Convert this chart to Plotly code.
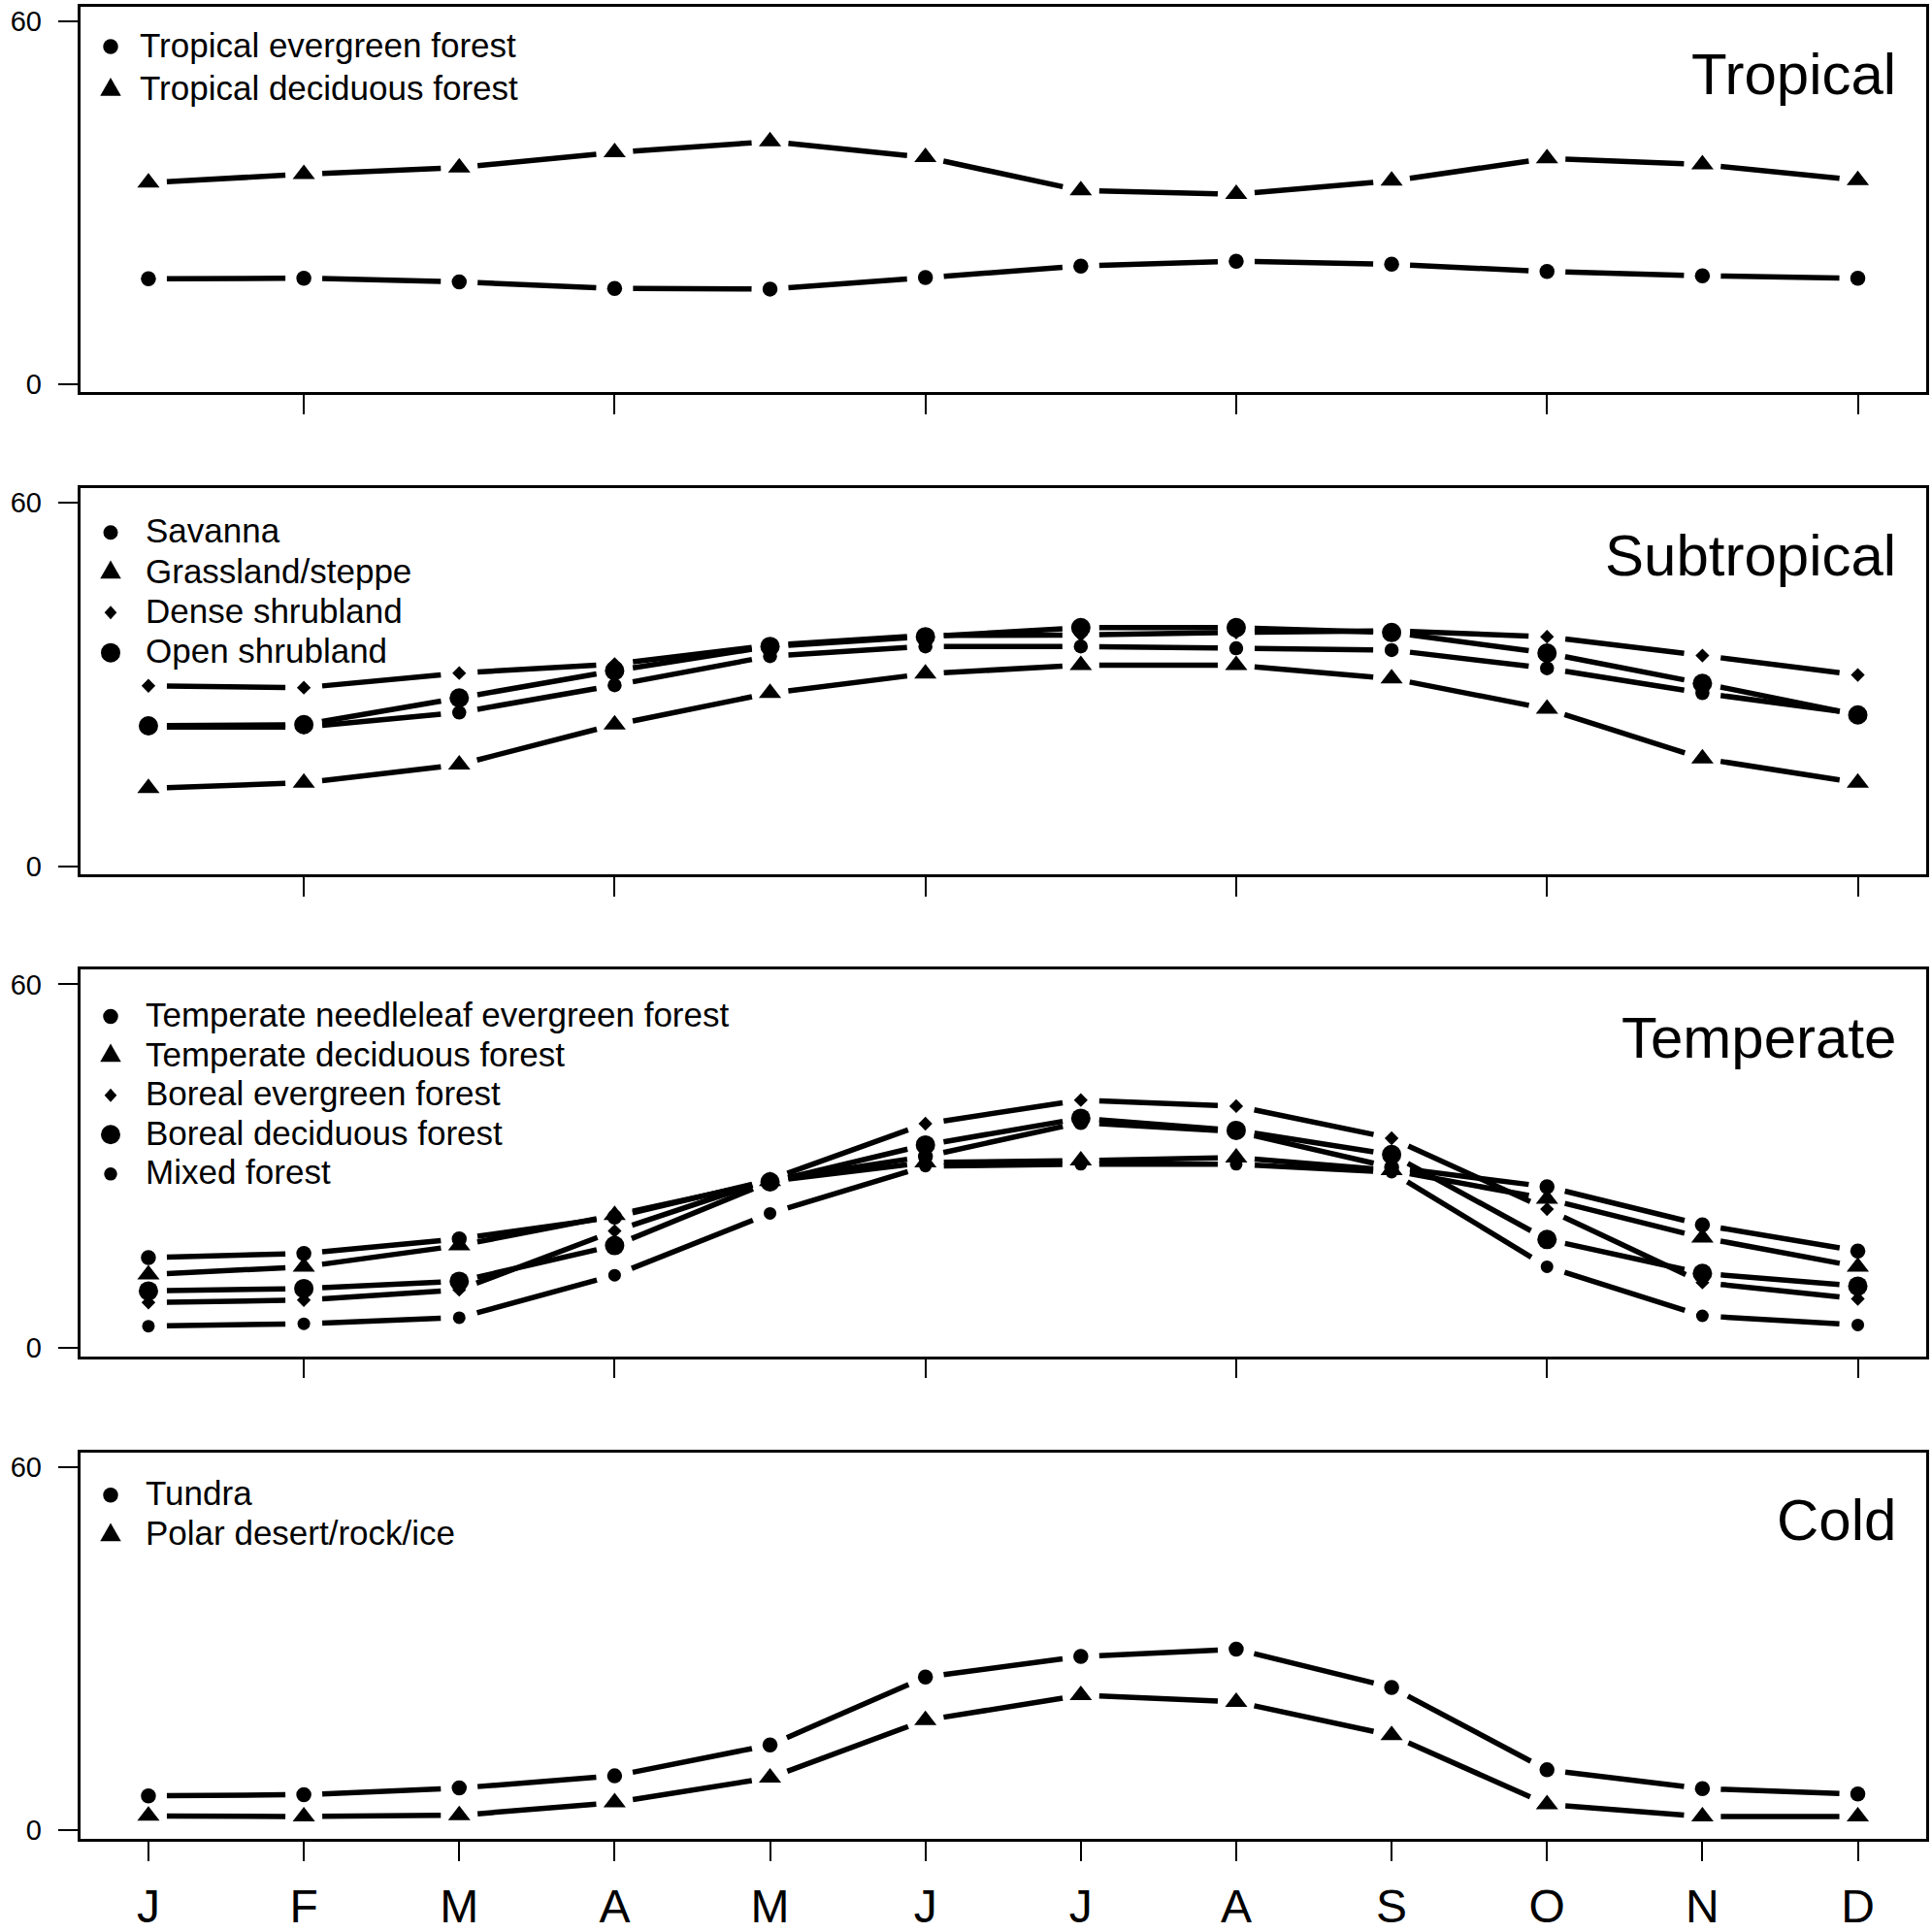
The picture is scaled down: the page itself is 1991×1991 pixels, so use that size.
import math
import plotly.graph_objects as go

# ---------------- data ----------------
months = ["J", "F", "M", "A", "M", "J", "J", "A", "S", "O", "N", "D"]
month_index = list(range(1, 13))
y_tick_values = [0, 60]
y_tick_labels = ["0", "60"]

tropical_evergreen = [17.4, 17.5, 16.9, 15.8, 15.7, 17.6, 19.5, 20.3, 19.8, 18.6, 17.9, 17.5]
tropical_deciduous = [33.3, 34.7, 35.8, 38.3, 40.1, 37.5, 32.0, 31.4, 33.6, 37.3, 36.3, 33.7]

savanna = [23.0, 23.0, 25.4, 29.9, 34.7, 36.3, 36.3, 36.0, 35.7, 32.7, 28.6, 25.2]
grassland_steppe = [12.9, 13.8, 16.8, 23.4, 28.6, 31.8, 33.2, 33.2, 31.0, 26.0, 17.8, 13.8]
dense_shrubland = [29.8, 29.5, 31.9, 33.4, 36.5, 38.1, 38.2, 38.6, 38.9, 37.9, 34.8, 31.6]
open_shrubland = [23.2, 23.4, 27.8, 32.3, 36.3, 37.9, 39.4, 39.4, 38.6, 35.2, 30.2, 25.0]

temperate_needleleaf = [14.9, 15.6, 18.0, 21.6, 27.7, 31.6, 37.2, 35.7, 29.8, 26.6, 20.3, 16.0]
temperate_deciduous = [12.1, 13.4, 16.9, 21.9, 27.5, 30.6, 30.9, 31.4, 29.3, 24.6, 18.2, 13.4]
boreal_evergreen = [7.5, 7.9, 9.6, 19.3, 27.8, 37.0, 40.9, 39.9, 34.6, 22.9, 10.8, 8.1]
boreal_deciduous = [9.4, 9.8, 11.0, 16.9, 27.4, 33.5, 37.9, 35.9, 31.9, 17.9, 12.3, 10.2]
mixed_forest = [3.6, 4.0, 5.0, 12.0, 22.2, 30.0, 30.3, 30.3, 29.0, 13.4, 5.3, 3.8]

tundra = [5.7, 5.9, 7.0, 9.0, 14.1, 25.3, 28.7, 29.9, 23.6, 10.0, 6.9, 6.0]
polar_desert = [2.4, 2.3, 2.5, 4.6, 8.7, 18.2, 22.3, 21.2, 15.7, 4.3, 2.3, 2.3]

panel_titles = ["Tropical", "Subtropical", "Temperate", "Cold"]

# ---------------- styling / layout ----------------
FIG = 1991
FONT = "Liberation Sans, Arial, Helvetica, sans-serif"
X_RANGE = [0.56, 12.44]
Y_RANGE = [-1.35, 62.4]
BOX_LEFT, BOX_RIGHT = 82.5, 1985.0
PANEL_PX = [(6, 407), (507, 909), (1008, 1410), (1510, 1912)]
GAP = 19.0
LINE_W = 5.5

# marker styles: (plotly symbol, plotly size, legend glyph kind, legend glyph size px)
CIRCLE = ("circle", 15.5, "circle", 15.5)
TRIANGLE = ("triangle-up", 20, "triangle", 21.5)
DIAMOND = ("diamond", 11, "diamond", 14)
BIG_CIRCLE = ("circle", 20, "circle", 20)
SAV_CIRCLE = ("circle", 14.5, "circle", 15)
SMALL_CIRCLE = ("circle", 13, "circle", 13.5)

panels = [
    [("Tropical evergreen forest", tropical_evergreen, CIRCLE),
     ("Tropical deciduous forest", tropical_deciduous, TRIANGLE)],
    [("Savanna", savanna, SAV_CIRCLE),
     ("Grassland/steppe", grassland_steppe, TRIANGLE),
     ("Dense shrubland", dense_shrubland, DIAMOND),
     ("Open shrubland", open_shrubland, BIG_CIRCLE)],
    [("Temperate needleleaf evergreen forest", temperate_needleleaf, CIRCLE),
     ("Temperate deciduous forest", temperate_deciduous, TRIANGLE),
     ("Boreal evergreen forest", boreal_evergreen, DIAMOND),
     ("Boreal deciduous forest", boreal_deciduous, BIG_CIRCLE),
     ("Mixed forest", mixed_forest, SMALL_CIRCLE)],
    [("Tundra", tundra, CIRCLE),
     ("Polar desert/rock/ice", polar_desert, TRIANGLE)],
]

# legend layout (pixels from top of figure): first row cap-centre, row spacing, text x
LEGEND_FIRST = [44.5, 550.0, 1053.5, 1551.5]
LEGEND_STEP = [44.8, 41.7, 41.0, 41.7]
LEGEND_TEXT_X = [142.0, 147.5, 147.5, 147.5]
LEGEND_SYMBOL_X = 114.0
LEGEND_FONT = 35
TITLE_OFFSET = 70.5


def gapped_segments(xs, ys, sx, sy, gap):
    """R type='b' style: segments between points, shortened at both ends."""
    gx, gy = [], []
    for i in range(len(xs) - 1):
        dx, dy = xs[i + 1] - xs[i], ys[i + 1] - ys[i]
        length = math.hypot(dx * sx, dy * sy)
        if length <= 2 * gap:
            continue
        f = gap / length
        gx += [xs[i] + dx * f, xs[i + 1] - dx * f, None]
        gy += [ys[i] + dy * f, ys[i + 1] - dy * f, None]
    return gx, gy


def legend_symbol(kind, size, xp, yp):
    base = dict(xref="paper", yref="paper", xsizemode="pixel", ysizemode="pixel",
                xanchor=xp, yanchor=yp, fillcolor="black", line=dict(width=0),
                layer="above")
    r = size / 2.0
    if kind == "circle":
        return dict(type="circle", x0=-r, x1=r, y0=-r, y1=r, **base)
    if kind == "triangle":
        h = size * math.sqrt(3) / 2
        path = f"M {-r:.2f},{-h / 3:.2f} L {r:.2f},{-h / 3:.2f} L 0,{2 * h / 3:.2f} Z"
        return dict(type="path", path=path, **base)
    # diamond
    path = f"M 0,{r:.2f} L {r * 0.9:.2f},0 L 0,{-r:.2f} L {-r * 0.9:.2f},0 Z"
    return dict(type="path", path=path, **base)


fig = go.Figure()
sx = (BOX_RIGHT - BOX_LEFT) / (X_RANGE[1] - X_RANGE[0])
shapes, annotations = [], []

for p, series in enumerate(panels):
    top, bottom = PANEL_PX[p]
    sy = (bottom - top) / (Y_RANGE[1] - Y_RANGE[0])
    xa = "x" if p == 0 else f"x{p + 1}"
    ya = "y" if p == 0 else f"y{p + 1}"
    for k, (name, vals, (sym, size, lkind, lsize)) in enumerate(series):
        lx, ly = gapped_segments(month_index, vals, sx, sy, GAP)
        fig.add_trace(go.Scatter(
            x=lx, y=ly, mode="lines", xaxis=xa, yaxis=ya,
            line=dict(color="black", width=LINE_W),
            showlegend=False, hoverinfo="skip", connectgaps=False))
        fig.add_trace(go.Scatter(
            x=month_index, y=vals, mode="markers", name=name,
            xaxis=xa, yaxis=ya, showlegend=False,
            marker=dict(symbol=sym, size=size, color="black", line=dict(width=0))))
        # manual legend entry
        row_y = LEGEND_FIRST[p] + k * LEGEND_STEP[p]
        shapes.append(legend_symbol(lkind, lsize, LEGEND_SYMBOL_X / FIG,
                                    1 - (row_y + 3.0) / FIG))
        annotations.append(dict(
            text=name, xref="paper", yref="paper",
            x=LEGEND_TEXT_X[p] / FIG, xanchor="left",
            y=1 - (row_y + 1.0) / FIG, yanchor="middle",
            showarrow=False, font=dict(family=FONT, size=LEGEND_FONT, color="black")))
    annotations.append(dict(
        text=panel_titles[p], xref="paper", yref="paper",
        x=1955.5 / FIG, xanchor="right",
        y=1 - (top + TITLE_OFFSET) / FIG, yanchor="middle",
        showarrow=False, font=dict(family=FONT, size=60, color="black")))

layout = dict(
    width=FIG, height=FIG, autosize=False,
    margin=dict(l=0, r=0, t=0, b=0, pad=0),
    paper_bgcolor="white", plot_bgcolor="white",
    font=dict(family=FONT, color="black"),
    showlegend=False,
    shapes=shapes, annotations=annotations,
)

for p in range(4):
    top, bottom = PANEL_PX[p]
    suffix = "" if p == 0 else str(p + 1)
    last = p == 3
    layout["xaxis" + suffix] = dict(
        domain=[BOX_LEFT / FIG, BOX_RIGHT / FIG], range=X_RANGE,
        anchor="y" + suffix, showgrid=False, zeroline=False,
        showline=True, linecolor="black", linewidth=2.5, mirror=True,
        ticks="outside", ticklen=20, tickwidth=2, tickcolor="black",
        tickmode="array",
        tickvals=month_index if last else month_index[1::2],
        ticktext=months if last else [""] * 6,
        showticklabels=last,
        tickfont=dict(family=FONT, size=48, color="black"),
        ticklabelstandoff=6,
    )
    layout["yaxis" + suffix] = dict(
        domain=[1 - bottom / FIG, 1 - top / FIG], range=Y_RANGE, anchor="x" + suffix,
        showgrid=False, zeroline=False,
        showline=True, linecolor="black", linewidth=2.5, mirror=True,
        ticks="outside", ticklen=20, tickwidth=2, tickcolor="black",
        tickmode="array", tickvals=y_tick_values, ticktext=y_tick_labels,
        tickfont=dict(family=FONT, size=29, color="black"),
        ticklabelstandoff=11,
    )

fig.update_layout(**layout)

fig.write_html(
    "out.html",
    include_plotlyjs=True,
    config={"displayModeBar": False},
    post_script="document.body.style.margin='0';document.body.style.overflow='hidden';",
)
